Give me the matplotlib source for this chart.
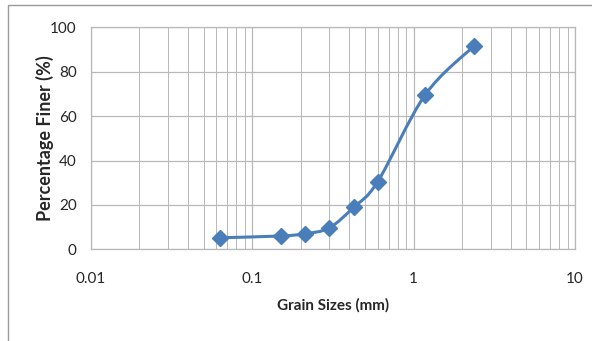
"""Grain size distribution curve (semi-log), Excel-style smoothed line."""

import matplotlib

matplotlib.use("Agg")
import matplotlib.pyplot as plt
from matplotlib.patches import PathPatch, Rectangle
from matplotlib.path import Path
from matplotlib.ticker import FixedLocator, LogLocator, NullFormatter
import numpy as np

plt.rcParams["font.family"] = ["Lato", "DejaVu Sans"]

# sieve sizes (mm) and percentage passing
grain_sizes_mm = [0.063, 0.15, 0.212, 0.3, 0.425, 0.6, 1.18, 2.36]
percent_finer = [5.2, 6.0, 7.0, 9.6, 18.9, 30.5, 69.6, 91.5]

x_ticks = [0.01, 0.1, 1, 10]
x_tick_labels = ["0.01", "0.1", "1", "10"]
y_ticks = [0, 20, 40, 60, 80, 100]

LINE_COLOR = "#4A7EBB"
GRID_COLOR = "#B8B8B8"
TEXT_COLOR = "#262626"


def smooth_path(xs, ys):
    """Catmull-Rom style Bezier path (in log-x space) like Excel's smoothed line."""
    lx = np.log10(xs)
    ly = np.asarray(ys, dtype=float)
    pts = np.column_stack([lx, ly])
    n = len(pts)
    verts = [pts[0]]
    codes = [Path.MOVETO]
    for i in range(n - 1):
        p0 = pts[i - 1] if i > 0 else pts[i]
        p1 = pts[i]
        p2 = pts[i + 1]
        p3 = pts[i + 2] if i + 2 < n else pts[i + 1]
        c1 = p1 + (p2 - p0) / 6.0
        c2 = p2 - (p3 - p1) / 6.0
        verts += [c1, c2, p2]
        codes += [Path.CURVE4] * 3
    verts = np.array(verts)
    verts[:, 0] = 10 ** verts[:, 0]
    return Path(verts, codes)


fig = plt.figure(figsize=(5.92, 3.41), dpi=100, facecolor="white")

# chart-area border (runs off the right and bottom of the picture)
fig.patches.append(
    Rectangle((8 / 592, -0.05), 1.2, 1 - 4.5 / 341 + 0.05, transform=fig.transFigure,
              fill=False, edgecolor="#9A9A9A", linewidth=1.0)
)

ax = fig.add_axes((0.1532, 0.2689, 0.8181, 0.651))
ax.set_xscale("log")
ax.set_xlim(0.01, 10)
ax.set_ylim(0, 100)

ax.xaxis.set_major_locator(FixedLocator(x_ticks))
ax.xaxis.set_minor_locator(LogLocator(base=10, subs=np.arange(2, 10)))
ax.xaxis.set_minor_formatter(NullFormatter())
ax.set_xticks(x_ticks)
ax.set_xticklabels(x_tick_labels)
ax.set_yticks(y_ticks)

ax.grid(True, which="major", color=GRID_COLOR, linewidth=0.9)
ax.grid(True, which="minor", axis="x", color=GRID_COLOR, linewidth=0.7)
ax.tick_params(which="both", length=0, labelsize=11, colors=TEXT_COLOR)
ax.tick_params(axis="x", pad=16)
ax.tick_params(axis="y", pad=10)
for spine in ax.spines.values():
    spine.set_color(GRID_COLOR)
    spine.set_linewidth(0.9)

ax.add_patch(PathPatch(smooth_path(grain_sizes_mm, percent_finer), fill=False,
                       edgecolor=LINE_COLOR, linewidth=2.2, zorder=3))
ax.plot(grain_sizes_mm, percent_finer, linestyle="none", marker="D", markersize=8,
        color=LINE_COLOR, zorder=4)

ax.set_xlabel("Grain Sizes (mm)", fontsize=11, fontweight="bold", color=TEXT_COLOR, labelpad=9)
ax.set_ylabel("Percentage Finer (%)", fontsize=13, fontweight="bold", color=TEXT_COLOR, labelpad=-3)

fig.savefig("out.png", dpi=100, facecolor="white")
